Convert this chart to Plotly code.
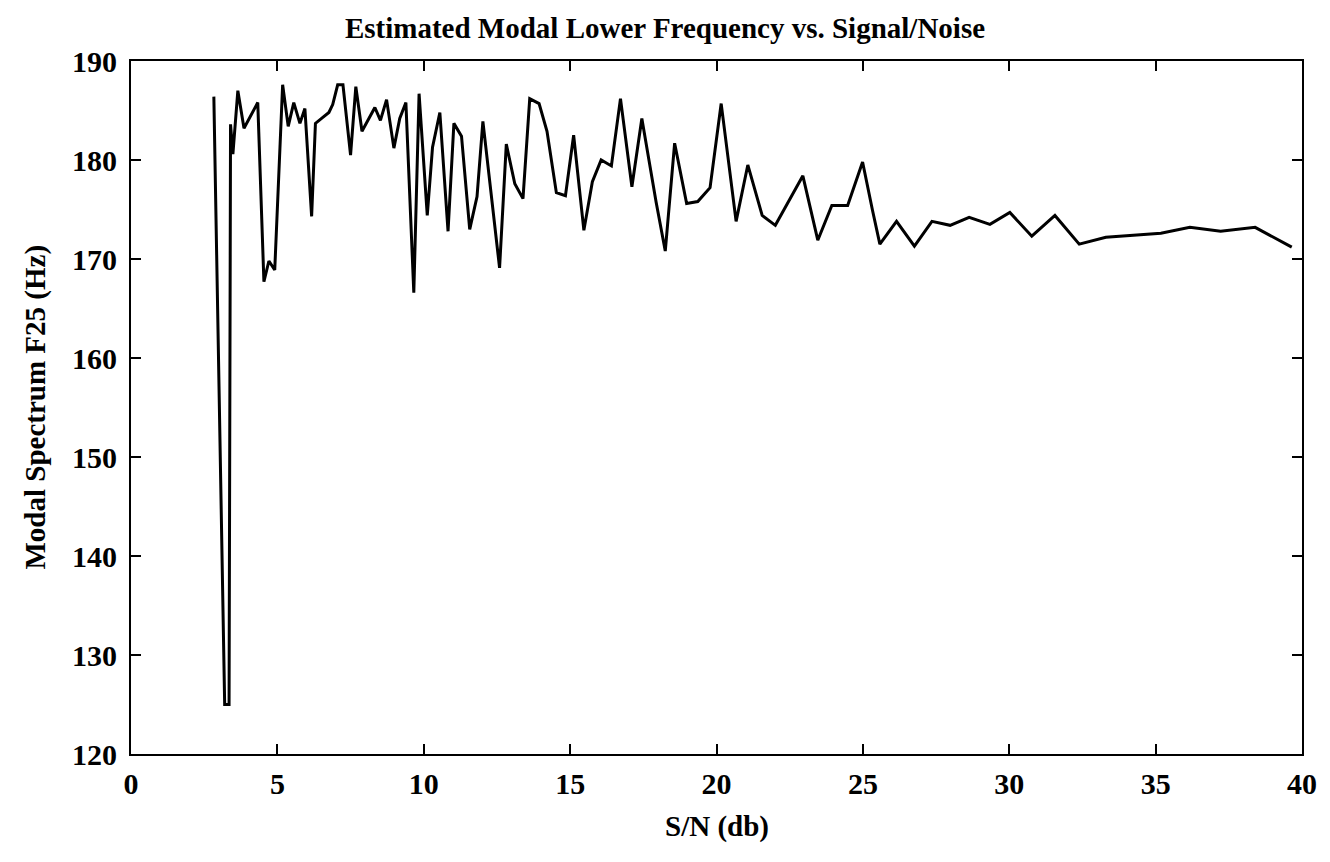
import plotly.graph_objects as go

# Signal-to-noise ratio (dB) and estimated modal lower frequency F25 (Hz)
snr_db = [2.83, 3.20, 3.35, 3.40, 3.48, 3.65, 3.86, 4.33, 4.54, 4.71, 4.91, 5.18, 5.37, 5.56,
          5.77, 5.94, 6.17, 6.30, 6.51, 6.76, 6.89, 7.06, 7.24, 7.50, 7.68, 7.89, 8.33, 8.52,
          8.73, 8.98, 9.18, 9.39, 9.66, 9.84, 10.12, 10.30, 10.55, 10.83, 11.03, 11.29, 11.57,
          11.82, 12.02, 12.59, 12.82, 13.11, 13.39, 13.62, 13.94, 14.21, 14.53, 14.84, 15.12,
          15.47, 15.76, 16.06, 16.41, 16.72, 17.11, 17.45, 17.94, 18.25, 18.57, 18.98, 19.36,
          19.78, 20.16, 20.67, 21.07, 21.56, 22.01, 22.95, 23.46, 23.94, 24.48, 24.99, 25.33,
          25.58, 26.15, 26.76, 27.36, 27.98, 28.63, 29.34, 30.02, 30.77, 31.56, 32.39, 33.30,
          34.21, 35.18, 36.17, 37.22, 38.40, 39.65]
f25_hz = [186.4, 125.0, 125.0, 183.6, 180.6, 187.0, 183.2, 185.8, 167.7, 169.8, 168.9, 187.6,
          183.4, 185.8, 183.7, 185.2, 174.3, 183.7, 184.2, 184.8, 185.6, 187.6, 187.6, 180.5,
          187.4, 182.9, 185.3, 184.0, 186.1, 181.2, 184.2, 185.8, 166.6, 186.7, 174.4, 181.3,
          184.8, 172.8, 183.7, 182.4, 173.0, 176.3, 183.9, 169.1, 181.6, 177.6, 176.1, 186.2,
          185.7, 182.9, 176.7, 176.4, 182.5, 172.9, 177.8, 180.0, 179.4, 186.2, 177.3, 184.2,
          175.7, 170.8, 181.7, 175.6, 175.8, 177.2, 185.7, 173.8, 179.5, 174.4, 173.4, 178.4,
          171.9, 175.4, 175.4, 179.8, 174.9, 171.5, 173.8, 171.3, 173.8, 173.4, 174.2, 173.5,
          174.7, 172.3, 174.4, 171.5, 172.2, 172.4, 172.6, 173.2, 172.8, 173.2, 171.2]

x_ticks = [0, 5, 10, 15, 20, 25, 30, 35, 40]
y_ticks = [120, 130, 140, 150, 160, 170, 180, 190]

SERIF = "Liberation Serif, Times New Roman, serif"
TITLE_FONT = dict(family=SERIF, size=29, color="black", weight="bold")

fig = go.Figure(
    go.Scatter(
        x=snr_db, y=f25_hz, mode="lines",
        line=dict(color="black", width=3),
        showlegend=False,
    )
)

axis_common = dict(
    showline=True, linecolor="black", linewidth=2,
    mirror="allticks", ticks="inside", ticklen=10, tickwidth=1.5, tickcolor="black",
    showgrid=False, zeroline=False,
    tickfont=dict(family=SERIF, size=30, color="black", weight="bold"),
)

fig.update_xaxes(
    range=[0, 40], tickvals=x_ticks, ticktext=[str(v) for v in x_ticks],
    ticklabelstandoff=2,
    **axis_common,
)
fig.update_yaxes(
    range=[120, 190], tickvals=y_ticks, ticktext=[str(v) for v in y_ticks],
    ticklabelstandoff=6,
    **axis_common,
)

# Axis titles placed in pixels relative to the plotting area
fig.add_annotation(
    text="S/N (db)", font=TITLE_FONT, showarrow=False,
    xref="paper", yref="paper", x=0.5, y=0, xanchor="center", yanchor="middle",
    yshift=-72,
)
fig.add_annotation(
    text="Modal Spectrum F25 (Hz)", font=TITLE_FONT, showarrow=False, textangle=-90,
    xref="paper", yref="paper", x=0, y=0.5, xanchor="center", yanchor="middle",
    xshift=-96,
)

fig.update_layout(
    width=1330, height=862,
    margin=dict(l=131, r=28, t=61, b=108),
    paper_bgcolor="white", plot_bgcolor="white",
    title=dict(
        text="Estimated Modal Lower Frequency vs. Signal/Noise",
        font=TITLE_FONT,
        x=0.5, xref="container", xanchor="center",
        y=1 - 28 / 862, yref="container", yanchor="middle",
    ),
)

fig.write_html("out.html")
